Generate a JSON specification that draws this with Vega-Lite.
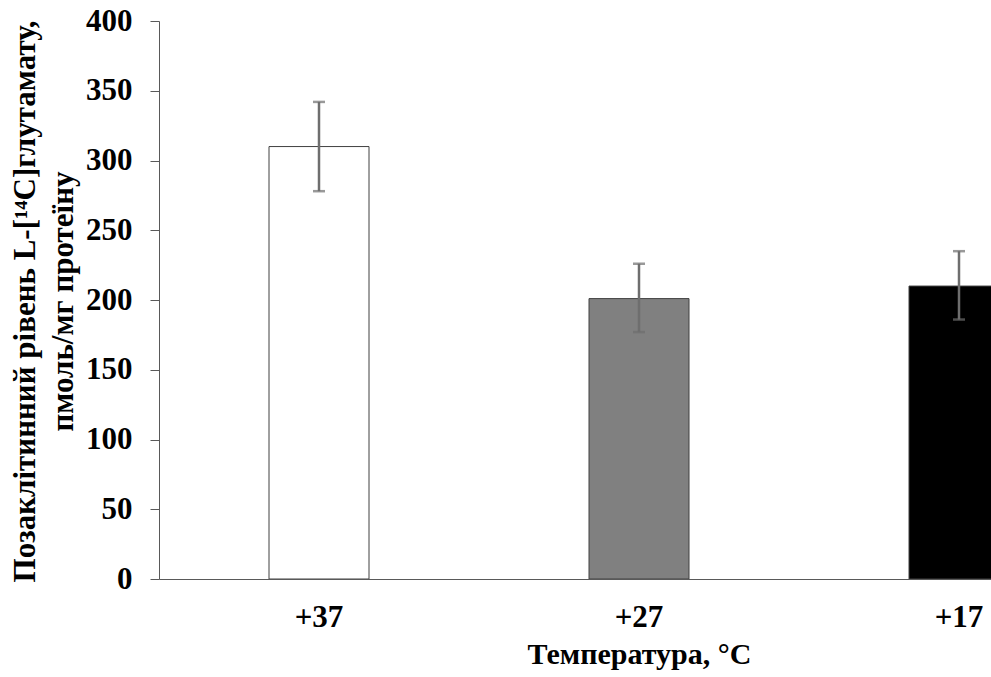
{
  "$schema": "https://vega.github.io/schema/vega-lite/v6.json",
  "width": 832,
  "height": 558,
  "autosize": {"type": "none"},
  "padding": {"left": 159, "top": 21, "right": 0, "bottom": 98},
  "background": "white",
  "config": {"view": {"stroke": null}, "font": "Liberation Serif"},
  "data": {
    "values": [
      {"temp": "+37", "value": 310, "low": 278, "high": 342, "color": "#ffffff"},
      {"temp": "+27", "value": 201, "low": 177, "high": 226, "color": "#808080"},
      {"temp": "+17", "value": 210, "low": 186, "high": 235, "color": "#000000"}
    ]
  },
  "encoding": {
    "x": {
      "field": "temp",
      "type": "nominal",
      "sort": ["+37", "+27", "+17"],
      "scale": {"range": [0, 960], "paddingInner": 0.6875, "paddingOuter": 0.34375},
      "axis": {
        "title": "Температура, °C",
        "titleFont": "Liberation Serif",
        "titleFontSize": 30,
        "titleFontWeight": "bold",
        "titleColor": "#000000",
        "titleBaseline": "alphabetic",
        "titleY": 84,
        "titleX": 480,
        "titleAnchor": "middle",
        "labelFont": "Liberation Serif",
        "labelFontSize": 31,
        "labelFontWeight": "bold",
        "labelColor": "#000000",
        "labelAngle": 0,
        "labelBaseline": "alphabetic",
        "labelPadding": 47,
        "ticks": false,
        "domainColor": "#595959",
        "domainWidth": 1,
        "grid": false
      }
    }
  },
  "layer": [
    {
      "mark": {"type": "bar", "stroke": "#404040", "strokeWidth": 1, "clip": true},
      "encoding": {
        "y": {
          "field": "value",
          "type": "quantitative",
          "scale": {"domain": [0, 400], "nice": false},
          "axis": {
            "values": [0, 50, 100, 150, 200, 250, 300, 350, 400],
            "title": ["Позаклітинний рівень L-[¹⁴C]глутамату,", "пмоль/мг протеїну"],
            "titleFont": "Liberation Serif",
            "titleFontSize": 31,
            "titleFontWeight": "bold",
            "titleColor": "#000000",
            "titleBaseline": "alphabetic",
            "titleAngle": -90,
            "titleX": -125,
            "titleY": 280,
            "titleAnchor": "middle",
            "titleLineHeight": 38,
            "labelFont": "Liberation Serif",
            "labelFontSize": 31,
            "labelFontWeight": "bold",
            "labelColor": "#000000",
            "labelPadding": 18,
            "tickSize": 9,
            "tickColor": "#595959",
            "domainColor": "#595959",
            "grid": false
          }
        },
        "fill": {"field": "color", "type": "nominal", "scale": null, "legend": null}
      }
    },
    {
      "mark": {"type": "rule", "color": "#6e6e6e", "strokeWidth": 2.5, "clip": true},
      "encoding": {
        "y": {"field": "low", "type": "quantitative"},
        "y2": {"field": "high"}
      }
    },
    {
      "mark": {"type": "tick", "color": "#6e6e6e", "size": 12, "thickness": 2.5, "clip": true},
      "encoding": {"y": {"field": "low", "type": "quantitative"}}
    },
    {
      "mark": {"type": "tick", "color": "#6e6e6e", "size": 12, "thickness": 2.5, "clip": true},
      "encoding": {"y": {"field": "high", "type": "quantitative"}}
    }
  ]
}
